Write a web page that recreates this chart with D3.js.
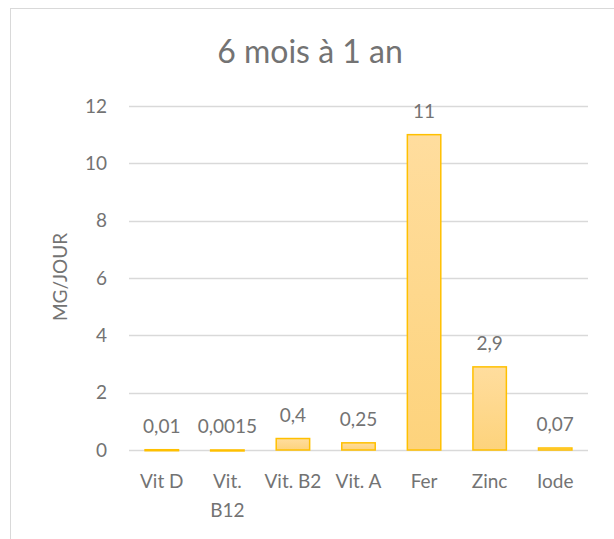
<!DOCTYPE html>
<html>
<head>
<meta charset="utf-8">
<script src="https://cdn.jsdelivr.net/npm/d3@7"></script>
<style>
  body { margin: 0; background: #fff; }
  text { font-family: Lato, "Open Sans", sans-serif; fill: #737373; }
</style>
</head>
<body>
<svg></svg>
<script>
// chart data
const categories = ["Vit D", "Vit. B12", "Vit. B2", "Vit. A", "Fer", "Zinc", "Iode"];
const values = [0.01, 0.0015, 0.4, 0.25, 11, 2.9, 0.07];
const valueLabels = ["0,01", "0,0015", "0,4", "0,25", "11", "2,9", "0,07"];
const yTicks = [0, 2, 4, 6, 8, 10, 12];

const width = 614, height = 539;
const plot = { left: 129, right: 588, top: 106, bottom: 450 };
const fontSize = "19px";

let svg = d3.select("svg")
    .attr("width", width)
    .attr("height", height);

// chart border
svg.append("rect")
    .attr("x", 10.5).attr("y", 8.5)
    .attr("width", 620).attr("height", 560)
    .attr("fill", "none")
    .attr("stroke", "#d9d9d9");

// gradient for bars
let grad = svg.append("defs").append("linearGradient")
    .attr("id", "barGrad")
    .attr("x1", 0).attr("y1", 0).attr("x2", 0).attr("y2", 1);
grad.append("stop").attr("offset", "0%").attr("stop-color", "#ffdd9e");
grad.append("stop").attr("offset", "100%").attr("stop-color", "#fdd37c");

let x = d3.scaleBand()
    .domain(categories)
    .range([plot.left, plot.right])
    .paddingInner(0.49)
    .paddingOuter(0.245);

let y = d3.scaleLinear()
    .domain([0, 12])
    .range([plot.bottom, plot.top]);

// gridlines
svg.append("g")
    .selectAll("line")
    .data(yTicks)
    .enter()
    .append("line")
    .attr("x1", plot.left)
    .attr("x2", plot.right)
    .attr("y1", d => Math.round(y(d)) + 0.5)
    .attr("y2", d => Math.round(y(d)) + 0.5)
    .attr("stroke", "#d9d9d9")
    .attr("stroke-width", 1.3);

// y tick labels
let yAxis = svg.append("g")
    .attr("transform", "translate(" + (plot.left - 22) + ",0)")
    .call(d3.axisLeft(y).tickValues(yTicks).tickSize(0).tickPadding(0));
yAxis.select(".domain").remove();
yAxis.selectAll("text")
    .style("font-size", fontSize)
    .style("font-family", "Lato, sans-serif")
    .attr("fill", "#737373");

// y axis title
svg.append("text")
    .attr("transform", "translate(67,277) rotate(-90)")
    .attr("text-anchor", "middle")
    .style("font-size", fontSize)
    .text("MG/JOUR");

// title
svg.append("text")
    .attr("x", 310)
    .attr("y", 63)
    .attr("text-anchor", "middle")
    .style("font-size", "32px")
    .text("6 mois à 1 an");

// bars
svg.append("g")
    .selectAll("rect")
    .data(values)
    .enter()
    .append("rect")
    .attr("x", (d, i) => x(categories[i]))
    .attr("y", d => y(d))
    .attr("width", x.bandwidth())
    .attr("height", d => Math.max(y(0) - y(d), 1))
    .attr("fill", "url(#barGrad)")
    .attr("stroke", "#ffc000")
    .attr("stroke-width", 1.5);

// value labels
svg.append("g")
    .selectAll("text")
    .data(values)
    .enter()
    .append("text")
    .attr("x", (d, i) => x(categories[i]) + x.bandwidth() / 2)
    .attr("y", d => y(d) - 17)
    .attr("text-anchor", "middle")
    .style("font-size", fontSize)
    .text((d, i) => valueLabels[i]);

// x category labels (wrap "Vit. B12")
let xl = svg.append("g")
    .selectAll("text")
    .data(categories)
    .enter()
    .append("text")
    .attr("x", d => x(d) + x.bandwidth() / 2)
    .attr("y", 488)
    .attr("text-anchor", "middle")
    .style("font-size", fontSize);
xl.each(function(d) {
    let lines = d === "Vit. B12" ? ["Vit.", "B12"] : [d];
    let t = d3.select(this);
    lines.forEach((l, k) => {
        t.append("tspan")
            .attr("x", x(d) + x.bandwidth() / 2)
            .attr("dy", k === 0 ? 0 : 29)
            .text(l);
    });
});
</script>
</body>
</html>
